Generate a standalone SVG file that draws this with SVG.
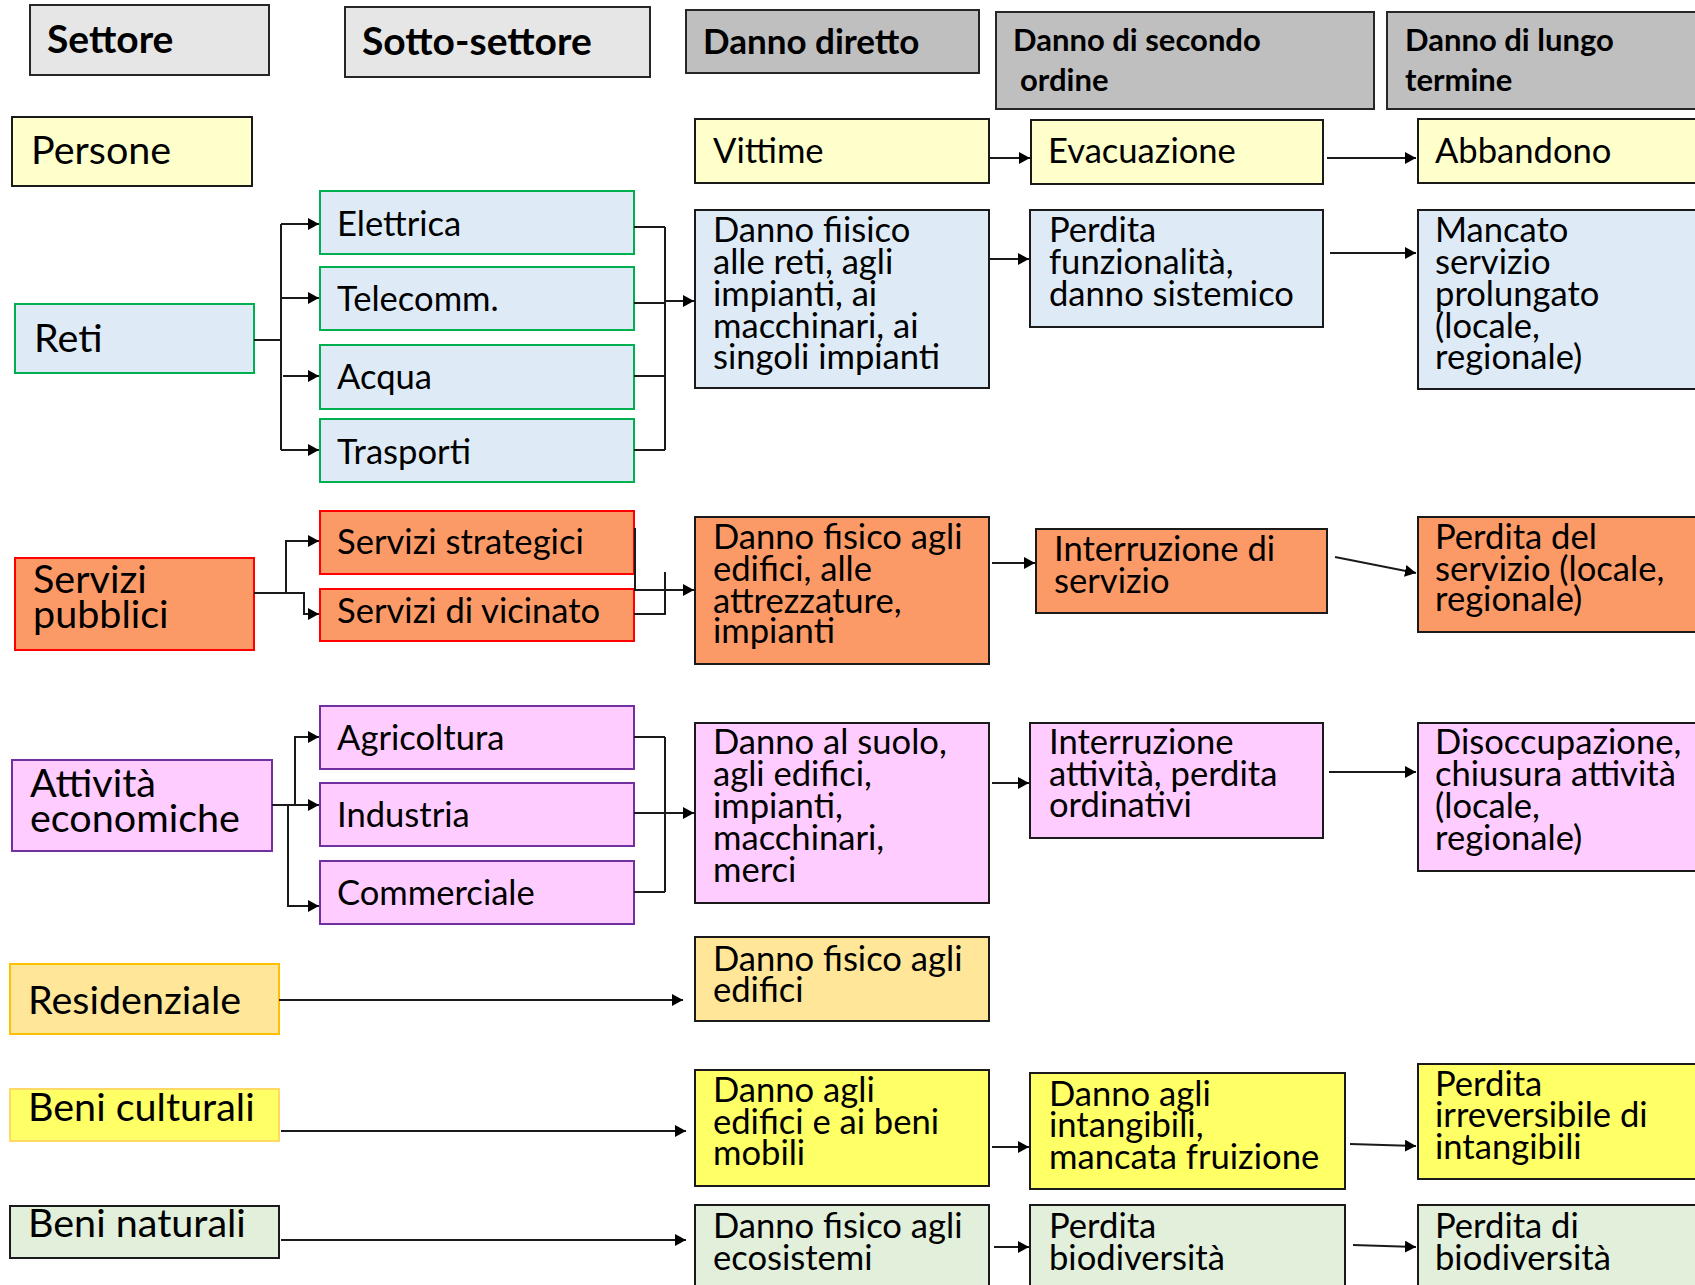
<svg xmlns="http://www.w3.org/2000/svg" width="1695" height="1285" viewBox="0 0 1695 1285">
  <defs>
    <marker id="arrow" markerUnits="userSpaceOnUse" markerWidth="12" markerHeight="12" refX="11" refY="6" orient="auto">
      <path d="M0,0 L11,6 L0,12 z" fill="#000"/>
    </marker>
    <style>
      text { font-family: Lato, "Open Sans", sans-serif; fill: #000; }
      .hd { font-weight: bold; font-size: 39px; }
      .hd2 { font-weight: bold; font-size: 35px; }
      .hd3 { font-weight: bold; font-size: 31px; }
      .sec { font-size: 39.5px; }
      .t { font-size: 34.6px; }
      rect { stroke-width: 2; }
      .hl { fill: #e6e6e6; stroke: #262626; }
      .hg { fill: #bfbfbf; stroke: #262626; }
      .dk { stroke: #1a1a1a; }
      .yel { fill: #ffffcc; }
      .blu { fill: #deebf7; }
      .org { fill: #fb9a66; }
      .pnk { fill: #ffccff; }
      .gld { fill: #ffe699; }
      .ylw { fill: #ffff66; }
      .grn { fill: #e2efda; }
      .sg { stroke: #00b050; }
      .sr { stroke: #ff0000; }
      .sp { stroke: #7030a0; }
      .so { stroke: #ffc000; }
      .sy { stroke: #ffd966; }
      #connectors path { fill: none; stroke: #1a1a1a; stroke-width: 2; }
      #connectors path.a { marker-end: url(#arrow); }
    </style>
  </defs>

  <rect width="1695" height="1285" fill="#fff"/>

  <!-- column headers -->
  <g id="h-settore"><rect class="hl" x="30" y="5" width="239" height="70"/><text class="hd" x="47" y="53">Settore</text></g>
  <g id="h-sottosettore"><rect class="hl" x="345" y="7" width="305" height="70"/><text class="hd" x="362" y="55">Sotto-settore</text></g>
  <g id="h-diretto"><rect class="hg" x="686" y="10" width="293" height="63"/><text class="hd2" x="703" y="54">Danno diretto</text></g>
  <g id="h-secondo"><rect class="hg" x="996" y="12" width="378" height="97"/><text class="hd3" x="1013" y="51">Danno di secondo</text><text class="hd3" x="1020" y="91">ordine</text></g>
  <g id="h-lungo"><rect class="hg" x="1387" y="12" width="320" height="97"/><text class="hd3" x="1405" y="51">Danno di lungo</text><text class="hd3" x="1405" y="91">termine</text></g>

  <!-- Persone -->
  <g id="persone"><rect class="yel dk" x="12" y="117" width="240" height="69"/><text class="sec" x="31" y="164">Persone</text></g>
  <g id="vittime"><rect class="yel dk" x="695" y="119" width="294" height="64"/><text class="t" x="713" y="163">Vittime</text></g>
  <g id="evacuazione"><rect class="yel dk" x="1031" y="120" width="292" height="64"/><text class="t" x="1048" y="163">Evacuazione</text></g>
  <g id="abbandono"><rect class="yel dk" x="1418" y="119" width="290" height="64"/><text class="t" x="1435" y="163">Abbandono</text></g>

  <!-- Reti -->
  <g id="reti"><rect class="blu sg" x="15" y="304" width="239" height="69"/><text class="sec" x="34" y="352">Reti</text></g>
  <g id="elettrica"><rect class="blu sg" x="320" y="191" width="314" height="63"/><text class="t" x="337" y="236">Elettrica</text></g>
  <g id="telecomm"><rect class="blu sg" x="320" y="267" width="314" height="63"/><text class="t" x="337" y="311">Telecomm.</text></g>
  <g id="acqua"><rect class="blu sg" x="320" y="345" width="314" height="64"/><text class="t" x="337" y="389">Acqua</text></g>
  <g id="trasporti"><rect class="blu sg" x="320" y="419" width="314" height="63"/><text class="t" x="337" y="464">Trasporti</text></g>
  <g id="danno-reti"><rect class="blu dk" x="695" y="210" width="294" height="178"/>
    <text class="t" x="713" y="242">Danno fiisico</text><text class="t" x="713" y="274">alle reti, agli</text><text class="t" x="713" y="306">impianti, ai</text><text class="t" x="713" y="338">macchinari, ai</text><text class="t" x="713" y="369">singoli impianti</text></g>
  <g id="funzionalita"><rect class="blu dk" x="1030" y="210" width="293" height="117"/>
    <text class="t" x="1049" y="242">Perdita</text><text class="t" x="1049" y="274">funzionalità,</text><text class="t" x="1049" y="306">danno sistemico</text></g>
  <g id="mancato-servizio"><rect class="blu dk" x="1418" y="210" width="290" height="179"/>
    <text class="t" x="1435" y="242">Mancato</text><text class="t" x="1435" y="274">servizio</text><text class="t" x="1435" y="306">prolungato</text><text class="t" x="1435" y="338">(locale,</text><text class="t" x="1435" y="369">regionale)</text></g>

  <!-- Servizi pubblici -->
  <g id="servizi-pubblici"><rect class="org sr" x="15" y="558" width="239" height="92"/><text class="sec" x="33" y="593">Servizi</text><text class="sec" x="33" y="628">pubblici</text></g>
  <g id="strategici"><rect class="org sr" x="320" y="511" width="314" height="63"/><text class="t" x="337" y="554">Servizi strategici</text></g>
  <g id="vicinato"><rect class="org sr" x="320" y="589" width="314" height="52"/><text class="t" x="337" y="623">Servizi di vicinato</text></g>
  <g id="danno-edifici-servizi"><rect class="org dk" x="695" y="517" width="294" height="147"/>
    <text class="t" x="713" y="549">Danno fisico agli</text><text class="t" x="713" y="581">edifici, alle</text><text class="t" x="713" y="613">attrezzature,</text><text class="t" x="713" y="643">impianti</text></g>
  <g id="interruzione-servizio"><rect class="org dk" x="1036" y="529" width="291" height="84"/>
    <text class="t" x="1054" y="561">Interruzione di</text><text class="t" x="1054" y="593">servizio</text></g>
  <g id="perdita-servizio"><rect class="org dk" x="1418" y="517" width="290" height="115"/>
    <text class="t" x="1435" y="549">Perdita del</text><text class="t" x="1435" y="581">servizio (locale,</text><text class="t" x="1435" y="611">regionale)</text></g>

  <!-- Attività economiche -->
  <g id="attivita"><rect class="pnk sp" x="12" y="760" width="260" height="91"/><text class="sec" x="30" y="797">Attività</text><text class="sec" x="30" y="832">economiche</text></g>
  <g id="agricoltura"><rect class="pnk sp" x="320" y="706" width="314" height="63"/><text class="t" x="337" y="750">Agricoltura</text></g>
  <g id="industria"><rect class="pnk sp" x="320" y="783" width="314" height="63"/><text class="t" x="337" y="827">Industria</text></g>
  <g id="commerciale"><rect class="pnk sp" x="320" y="861" width="314" height="63"/><text class="t" x="337" y="905">Commerciale</text></g>
  <g id="danno-suolo"><rect class="pnk dk" x="695" y="723" width="294" height="180"/>
    <text class="t" x="713" y="754">Danno al suolo,</text><text class="t" x="713" y="786">agli edifici,</text><text class="t" x="713" y="818">impianti,</text><text class="t" x="713" y="850">macchinari,</text><text class="t" x="713" y="882">merci</text></g>
  <g id="interruzione-attivita"><rect class="pnk dk" x="1030" y="723" width="293" height="115"/>
    <text class="t" x="1049" y="754">Interruzione</text><text class="t" x="1049" y="786">attività, perdita</text><text class="t" x="1049" y="817">ordinativi</text></g>
  <g id="disoccupazione"><rect class="pnk dk" x="1418" y="723" width="290" height="148"/>
    <text class="t" x="1435" y="754">Disoccupazione,</text><text class="t" x="1435" y="786">chiusura attività</text><text class="t" x="1435" y="818">(locale,</text><text class="t" x="1435" y="850">regionale)</text></g>

  <!-- Residenziale -->
  <g id="residenziale"><rect class="gld so" x="10" y="964" width="269" height="70"/><text class="sec" x="28" y="1014">Residenziale</text></g>
  <g id="danno-edifici"><rect class="gld dk" x="695" y="937" width="294" height="84"/>
    <text class="t" x="713" y="971">Danno fisico agli</text><text class="t" x="713" y="1002">edifici</text></g>

  <!-- Beni culturali -->
  <g id="beni-culturali"><rect class="ylw sy" x="10" y="1089" width="269" height="52"/><text class="sec" x="28" y="1121">Beni culturali</text></g>
  <g id="danno-beni-mobili"><rect class="ylw dk" x="695" y="1070" width="294" height="116"/>
    <text class="t" x="713" y="1102">Danno agli</text><text class="t" x="713" y="1134">edifici e ai beni</text><text class="t" x="713" y="1165">mobili</text></g>
  <g id="danno-intangibili"><rect class="ylw dk" x="1030" y="1073" width="315" height="116"/>
    <text class="t" x="1049" y="1106">Danno agli</text><text class="t" x="1049" y="1137">intangibili,</text><text class="t" x="1049" y="1169">mancata fruizione</text></g>
  <g id="perdita-intangibili"><rect class="ylw dk" x="1418" y="1064" width="290" height="115"/>
    <text class="t" x="1435" y="1096">Perdita</text><text class="t" x="1435" y="1127">irreversibile di</text><text class="t" x="1435" y="1159">intangibili</text></g>

  <!-- Beni naturali -->
  <g id="beni-naturali"><rect class="grn dk" x="10" y="1206" width="269" height="52"/><text class="sec" x="28" y="1237">Beni naturali</text></g>
  <g id="danno-ecosistemi"><rect class="grn dk" x="695" y="1205" width="294" height="100"/>
    <text class="t" x="713" y="1238">Danno fisico agli</text><text class="t" x="713" y="1270">ecosistemi</text></g>
  <g id="perdita-biodiversita"><rect class="grn dk" x="1030" y="1205" width="315" height="100"/>
    <text class="t" x="1049" y="1238">Perdita</text><text class="t" x="1049" y="1270">biodiversità</text></g>
  <g id="perdita-di-biodiversita"><rect class="grn dk" x="1418" y="1205" width="290" height="100"/>
    <text class="t" x="1435" y="1238">Perdita di</text><text class="t" x="1435" y="1270">biodiversità</text></g>

  <!-- connectors -->
  <g id="connectors">
    <path class="a" d="M989,158 H1030"/>
    <path class="a" d="M1327,158 H1416"/>

    <path d="M254,340 H281 M281,224 V450"/>
    <path class="a" d="M281,224 H319"/>
    <path class="a" d="M281,298 H319"/>
    <path class="a" d="M283,376 H319"/>
    <path class="a" d="M281,450 H319"/>
    <path d="M634,227 H665 M634,303 H665 M634,376 H665 M634,450 H665 M665,227 V450"/>
    <path class="a" d="M665,301 H694"/>
    <path class="a" d="M989,259 H1029"/>
    <path class="a" d="M1330,253 H1416"/>

    <path class="a" d="M254,593 H304 V614 H319"/>
    <path class="a" d="M286,593 V541 H319"/>
    <path class="a" d="M635,528 V590 H694"/>
    <path d="M634,614 H665 V572"/>
    <path class="a" d="M992,563 H1035"/>
    <path class="a" d="M1335,557 L1416,573"/>

    <path class="a" d="M272,805 H319"/>
    <path class="a" d="M295,805 V737 H319"/>
    <path class="a" d="M288,805 V906 H319"/>
    <path d="M634,737 H665 M634,813 H665 M634,892 H665 M665,737 V892"/>
    <path class="a" d="M665,813 H694"/>
    <path class="a" d="M992,783 H1029"/>
    <path class="a" d="M1329,772 H1416"/>

    <path class="a" d="M279,1000 H683"/>

    <path class="a" d="M281,1131 H686"/>
    <path class="a" d="M992,1147 H1029"/>
    <path class="a" d="M1350,1144 L1416,1146"/>

    <path class="a" d="M281,1240 H686"/>
    <path class="a" d="M994,1247 H1029"/>
    <path class="a" d="M1353,1245 L1416,1247"/>
  </g>
</svg>
